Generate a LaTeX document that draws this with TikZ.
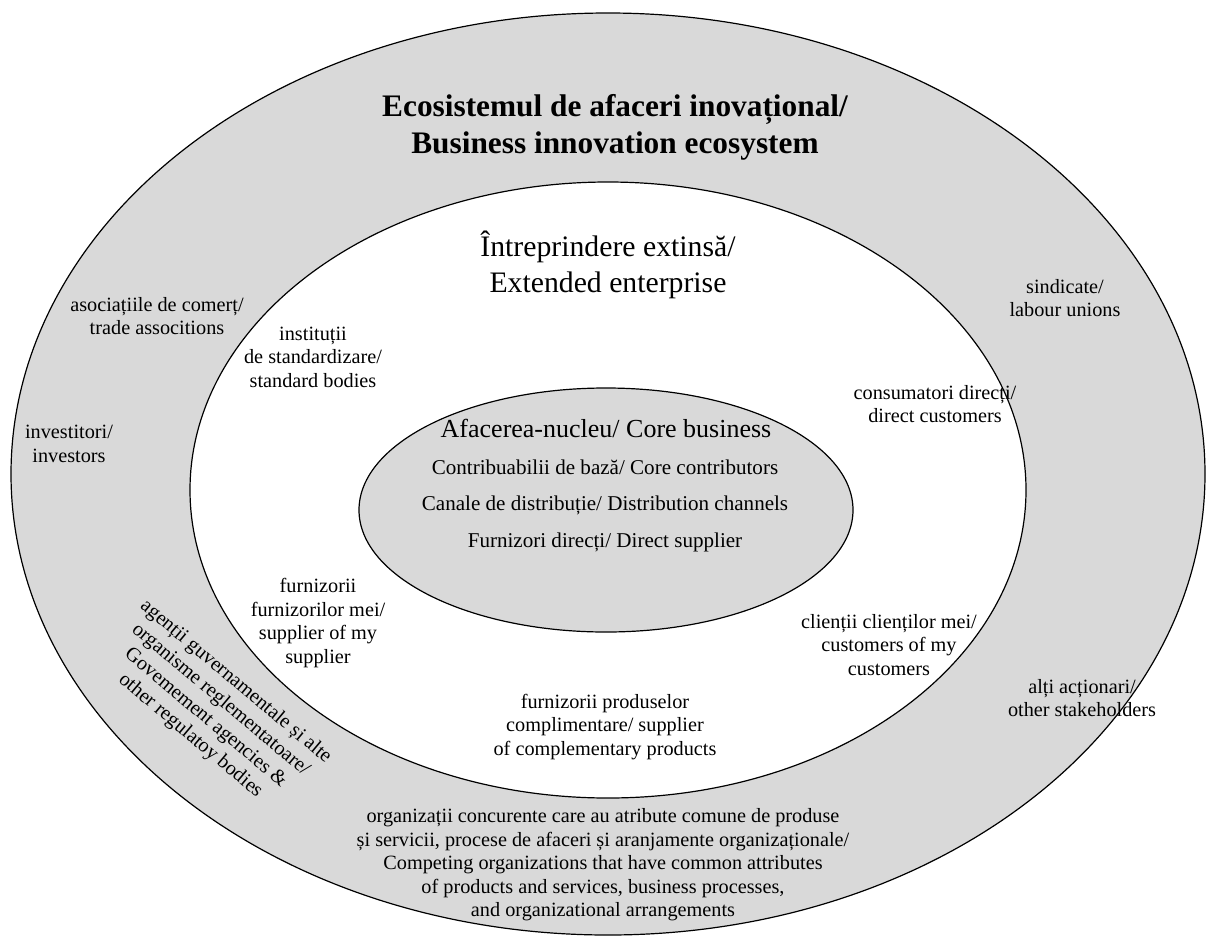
\documentclass[tikz,border=0pt]{standalone}
\usepackage{fontspec}
\setmainfont{Liberation Serif}
\begin{document}
\begin{tikzpicture}[x=0.75pt, y=-0.75pt,
  ring/.style={draw, line width=0.9pt},
  lbl/.style={align=center, inner sep=0pt, font=\fontsize{15.2}{17.6}\selectfont},
  head/.style={align=center, inner sep=0pt, font=\fontsize{22.3}{27}\selectfont}]
\useasboundingbox (0,0) rectangle (1206,936);

% the three rings
\draw[ring, fill=black!15] (608,474) ellipse [x radius=447.75pt, y radius=345.75pt];
\draw[ring, fill=white] (608,490) ellipse [x radius=313.5pt, y radius=231pt];
\draw[ring, fill=black!15] (606,510) ellipse [x radius=185.25pt, y radius=91.5pt];

% headings
\node[head, font=\fontsize{23.5}{27.75}\selectfont\bfseries] (eco) at (615,127) {Ecosistemul de afaceri inovațional/\\Business innovation ecosystem};
\node[head] (ext) at (608,265) {Întreprindere extinsă/\\Extended enterprise};
\node[head, font=\fontsize{19.5}{22}\selectfont] (core) at (606,428) {Afacerea-nucleu/ Core business};

% core business
\node[lbl, font=\fontsize{15.8}{18}\selectfont] (c1) at (605,467) {Contribuabilii de bază/ Core contributors};
\node[lbl, font=\fontsize{15.8}{18}\selectfont] (c2) at (605,505) {Canale de distribuție/ Distribution channels};
\node[lbl, font=\fontsize{15.8}{18}\selectfont] (c3) at (605,542) {Furnizori direcți/ Direct supplier};

% extended enterprise
\node[lbl] (std) at (313,357) {instituții\\de standardizare/\\standard bodies};
\node[lbl] (cons) at (935,404) {consumatori direcți/\\direct customers};
\node[lbl] (sup) at (318,623) {furnizorii\\furnizorilor mei/\\supplier of my\\supplier};
\node[lbl] (cli) at (889,645) {clienții clienților mei/\\customers of my\\customers};
\node[lbl] (compl) at (605,727) {furnizorii produselor\\complimentare/ supplier\\of complementary products};

% ecosystem
\node[lbl] (trade) at (157,316) {asociațiile de comerț/\\trade associtions};
\node[lbl] (inv) at (69,444) {investitori/\\investors};
\node[lbl] (union) at (1065,298) {sindicate/\\labour unions};
\node[lbl] (stake) at (1082,698) {alți acționari/\\other stakeholders};
\node[lbl, rotate=-40] (gov) at (213,709) {agenții guvernamentale și alte\\organisme reglementatoare/\\Govemement agencies \&\\other regulatoy bodies};
\node[lbl] (comp) at (603,865) {organizații concurente care au atribute comune de produse\\și servicii, procese de afaceri și aranjamente organizaționale/\\Competing organizations that have common attributes\\of products and services, business processes,\\and organizational arrangements};

\end{tikzpicture}
\end{document}
